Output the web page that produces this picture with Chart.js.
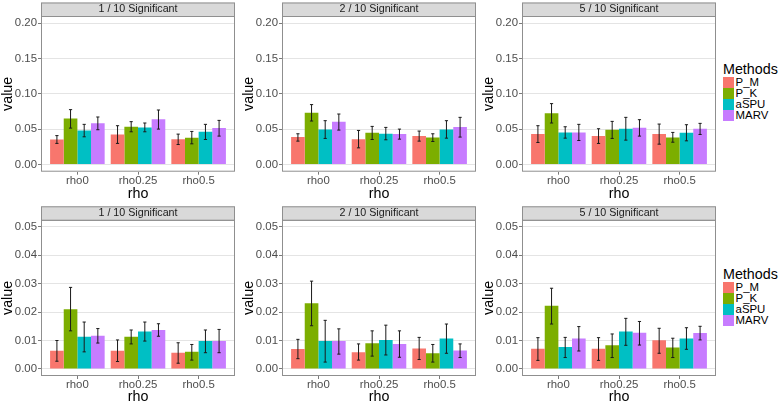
<!DOCTYPE html>
<html>
<head>
<meta charset="utf-8">
<title>Methods by rho</title>
<script src="https://cdn.jsdelivr.net/npm/chart.js@4.4.1/dist/chart.umd.min.js"></script>
<style>
    html, body { margin: 0; padding: 0; background: #fff; }
    body { width: 778px; height: 404px; position: relative; overflow: hidden;
           font-family: 'Liberation Sans', Arial, sans-serif; }
    canvas { position: absolute; }
    .legend { position: absolute; left: 723px; color: #000; }
    .legend .ttl { font-size: 14.3px; line-height: 16px; margin-bottom: 0; }
    .legend .row { height: 11px; display: flex; align-items: center; font-size: 11.4px; line-height: 11px; }
    .legend .key { width: 11px; height: 11px; margin-right: 1.6px; }
</style>
</head>
<body>
<script>
console.log('📦 facet chart loading...');

// ============================
// Data
// ============================
const rhoLabels = ['rho0', 'rho0.25', 'rho0.5'];
const methods = ['P_M', 'P_K', 'aSPU', 'MARV'];
const facetTitles = ['1 / 10 Significant', '2 / 10 Significant', '5 / 10 Significant'];
const topTicks = [0, 0.05, 0.10, 0.15, 0.20];
const bottomTicks = [0, 0.01, 0.02, 0.03, 0.04, 0.05];

// top row: rows = methods, cols = rho
const sig1TopValues = [[0.0355, 0.0426, 0.0360], [0.0650, 0.0535, 0.0379], [0.0483, 0.0526, 0.0464], [0.0583, 0.0640, 0.0516]];
const sig1TopLower  = [[0.0300, 0.0300, 0.0284], [0.0516, 0.0464, 0.0294], [0.0393, 0.0464, 0.0355], [0.0493, 0.0502, 0.0403]];
const sig1TopUpper  = [[0.0410, 0.0550, 0.0431], [0.0777, 0.0607, 0.0469], [0.0569, 0.0588, 0.0569], [0.0673, 0.0772, 0.0625]];

const sig2TopValues = [[0.0389, 0.0360, 0.0403], [0.0734, 0.0450, 0.0384], [0.0498, 0.0436, 0.0498], [0.0606, 0.0431, 0.0531]];
const sig2TopLower  = [[0.0332, 0.0237, 0.0332], [0.0616, 0.0355, 0.0327], [0.0370, 0.0351, 0.0374], [0.0488, 0.0360, 0.0389]];
const sig2TopUpper  = [[0.0436, 0.0483, 0.0474], [0.0848, 0.0540, 0.0436], [0.0621, 0.0526, 0.0621], [0.0715, 0.0502, 0.0668]];

const sig5TopValues = [[0.0431, 0.0403, 0.0431], [0.0725, 0.0493, 0.0384], [0.0455, 0.0507, 0.0450], [0.0455, 0.0521, 0.0507]];
const sig5TopLower  = [[0.0313, 0.0299, 0.0289], [0.0588, 0.0370, 0.0317], [0.0374, 0.0346, 0.0336], [0.0341, 0.0403, 0.0426]];
const sig5TopUpper  = [[0.0550, 0.0507, 0.0573], [0.0862, 0.0611, 0.0455], [0.0535, 0.0668, 0.0564], [0.0569, 0.0635, 0.0583]];

// bottom row
const sig1BotValues = [[0.0064, 0.0064, 0.0057], [0.0210, 0.0113, 0.0060], [0.0113, 0.0132, 0.0098], [0.0117, 0.0137, 0.0098]];
const sig1BotLower  = [[0.0027, 0.0026, 0.0020], [0.0134, 0.0088, 0.0031], [0.0060, 0.0098, 0.0057], [0.0091, 0.0115, 0.0057]];
const sig1BotUpper  = [[0.0100, 0.0102, 0.0092], [0.0287, 0.0137, 0.0086], [0.0165, 0.0165, 0.0137], [0.0142, 0.0159, 0.0139]];

const sig2BotValues = [[0.0070, 0.0059, 0.0072], [0.0231, 0.0090, 0.0055], [0.0098, 0.0102, 0.0107], [0.0098, 0.0088, 0.0065]];
const sig2BotLower  = [[0.0036, 0.0031, 0.0033], [0.0152, 0.0045, 0.0024], [0.0024, 0.0049, 0.0055], [0.0052, 0.0041, 0.0040]];
const sig2BotUpper  = [[0.0104, 0.0088, 0.0111], [0.0309, 0.0134, 0.0086], [0.0171, 0.0154, 0.0158], [0.0141, 0.0134, 0.0088]];

const sig5BotValues = [[0.0071, 0.0071, 0.0101], [0.0222, 0.0083, 0.0075], [0.0077, 0.0132, 0.0107], [0.0107, 0.0127, 0.0126]];
const sig5BotLower  = [[0.0030, 0.0030, 0.0055], [0.0158, 0.0040, 0.0040], [0.0040, 0.0083, 0.0069], [0.0063, 0.0084, 0.0102]];
const sig5BotUpper  = [[0.0110, 0.0110, 0.0143], [0.0284, 0.0123, 0.0108], [0.0111, 0.0178, 0.0145], [0.0149, 0.0167, 0.0150]];

// ============================
// Styles / layout
// ============================
const methodColors = ['#F8766D', '#7CAE00', '#00BFC4', '#C77CFF'];
const FONT = "'Liberation Sans', Arial, sans-serif";
const colLefts = [0, 241, 481];
const rowsLayout = [
    { top: 0,   height: 201, padTop: 2.5, xAxisH: 29.3, min: -0.01,   max: 0.21,   ticks: topTicks },
    { top: 202, height: 202, padTop: 4.3, xAxisH: 28,   min: -0.0025, max: 0.0525, ticks: bottomTicks }
];

// 📊 error bars drawn from the y scale
const errorBarPlugin = {
    id: 'errorBars',
    afterDatasetsDraw(chart) {
        const { ctx } = chart;
        const y = chart.scales.y;
        ctx.save();
        ctx.strokeStyle = '#1a1a1a';
        ctx.lineWidth = 1;
        chart.data.datasets.forEach((ds, di) => {
            chart.getDatasetMeta(di).data.forEach((bar, i) => {
                const lo = y.getPixelForValue(ds.errLo[i]);
                const hi = y.getPixelForValue(ds.errHi[i]);
                const x = bar.x;
                ctx.beginPath();
                ctx.moveTo(x, lo); ctx.lineTo(x, hi);
                ctx.moveTo(x - 1.6, lo); ctx.lineTo(x + 1.6, lo);
                ctx.moveTo(x - 1.6, hi); ctx.lineTo(x + 1.6, hi);
                ctx.stroke();
            });
        });
        ctx.restore();
    }
};

// 🏷️ facet strip + panel border
const facetFramePlugin = {
    id: 'facetFrame',
    beforeDraw(chart) {
        const { ctx, chartArea: a } = chart;
        const top = chart.titleBlock.top;
        ctx.save();
        ctx.fillStyle = '#D9D9D9';
        ctx.fillRect(a.left, top, a.right - a.left, a.top - top);
        ctx.strokeStyle = '#8f8f8f';
        ctx.lineWidth = 1;
        ctx.strokeRect(a.left + 0.5, top + 0.5, a.right - a.left - 1, a.top - top);
        ctx.restore();
    },
    afterDraw(chart) {
        const { ctx, chartArea: a } = chart;
        ctx.save();
        ctx.strokeStyle = '#8f8f8f';
        ctx.lineWidth = 1;
        ctx.strokeRect(a.left + 0.5, a.top + 0.5, a.right - a.left - 1, a.bottom - a.top - 1);
        ctx.restore();
    }
};

function buildFacet(row, col, title, values, lower, upper) {
    const L = rowsLayout[row];
    const canvas = document.createElement('canvas');
    canvas.width = 240;
    canvas.height = L.height;
    canvas.style.left = colLefts[col] + 'px';
    canvas.style.top = L.top + 'px';
    document.body.appendChild(canvas);

    const datasets = methods.map((m, mi) => ({
        label: m,
        data: values[mi].map((v, i) => ({ x: i + 1, y: v })),
        errLo: lower[mi],
        errHi: upper[mi],
        backgroundColor: methodColors[mi],
        borderWidth: 0,
        categoryPercentage: 0.9,
        barPercentage: 1.0
    }));

    return new Chart(canvas.getContext('2d'), {
        type: 'bar',
        data: { datasets },
        options: {
            responsive: false,
            animation: false,
            layout: { padding: { top: L.padTop, right: 5, bottom: 0, left: 0 } },
            plugins: {
                legend: { display: false },
                tooltip: { enabled: false },
                title: {
                    display: true, text: title, fullSize: false, color: '#1A1A1A',
                    font: { family: FONT, size: 10.7, weight: 'normal', lineHeight: '13.5px' },
                    padding: { top: 0, bottom: 0 }
                }
            },
            scales: {
                x: {
                    type: 'linear', min: 0.4, max: 3.6, offset: false,
                    afterBuildTicks: s => { s.ticks = rhoLabels.map((_, i) => ({ value: i + 1 })); },
                    afterFit: s => { s.height = L.xAxisH; },
                    ticks: {
                        callback: v => rhoLabels[Math.round(v) - 1],
                        color: '#4D4D4D', padding: 0, autoSkip: false, maxRotation: 0,
                        font: { family: FONT, size: 11.4, lineHeight: 1 }
                    },
                    grid: { offset: false, drawOnChartArea: false, drawTicks: true, tickLength: 3, tickColor: '#7a7a7a' },
                    border: { display: false },
                    title: {
                        display: true, text: 'rho', color: '#000',
                        font: { family: FONT, size: 14.3, lineHeight: 1 },
                        padding: { top: 0, bottom: 0 }
                    }
                },
                y: {
                    min: L.min, max: L.max,
                    afterBuildTicks: s => { s.ticks = L.ticks.map(v => ({ value: v })); },
                    afterFit: s => { s.width = 41; },
                    ticks: {
                        callback: v => v.toFixed(2),
                        color: '#4D4D4D', padding: 1,
                        font: { family: FONT, size: 11.4 }
                    },
                    grid: { color: '#E4E4E4', lineWidth: 1, tickLength: 3, tickColor: '#7a7a7a' },
                    border: { display: false },
                    title: {
                        display: true, text: 'value', color: '#000',
                        font: { family: FONT, size: 14.3, lineHeight: 1 },
                        padding: { top: 0.5, bottom: 0 }
                    }
                }
            }
        },
        plugins: [facetFramePlugin, errorBarPlugin]
    });
}

function buildLegend(top) {
    const box = document.createElement('div');
    box.className = 'legend';
    box.style.top = top + 'px';
    box.innerHTML = '<div class="ttl">Methods</div>' + methods.map((m, i) =>
        `<div class="row"><span class="key" style="background:${methodColors[i]}"></span>${m}</div>`
    ).join('');
    document.body.appendChild(box);
}

// ============================
// 📌 entry point
// ============================
try {
    buildFacet(0, 0, facetTitles[0], sig1TopValues, sig1TopLower, sig1TopUpper);
    buildFacet(0, 1, facetTitles[1], sig2TopValues, sig2TopLower, sig2TopUpper);
    buildFacet(0, 2, facetTitles[2], sig5TopValues, sig5TopLower, sig5TopUpper);
    buildFacet(1, 0, facetTitles[0], sig1BotValues, sig1BotLower, sig1BotUpper);
    buildFacet(1, 1, facetTitles[1], sig2BotValues, sig2BotLower, sig2BotUpper);
    buildFacet(1, 2, facetTitles[2], sig5BotValues, sig5BotLower, sig5BotUpper);
    buildLegend(61);
    buildLegend(266);
    console.log('✅ facets drawn');
} catch (err) {
    console.error('❌ facet build failed:', err);
}
</script>
</body>
</html>
